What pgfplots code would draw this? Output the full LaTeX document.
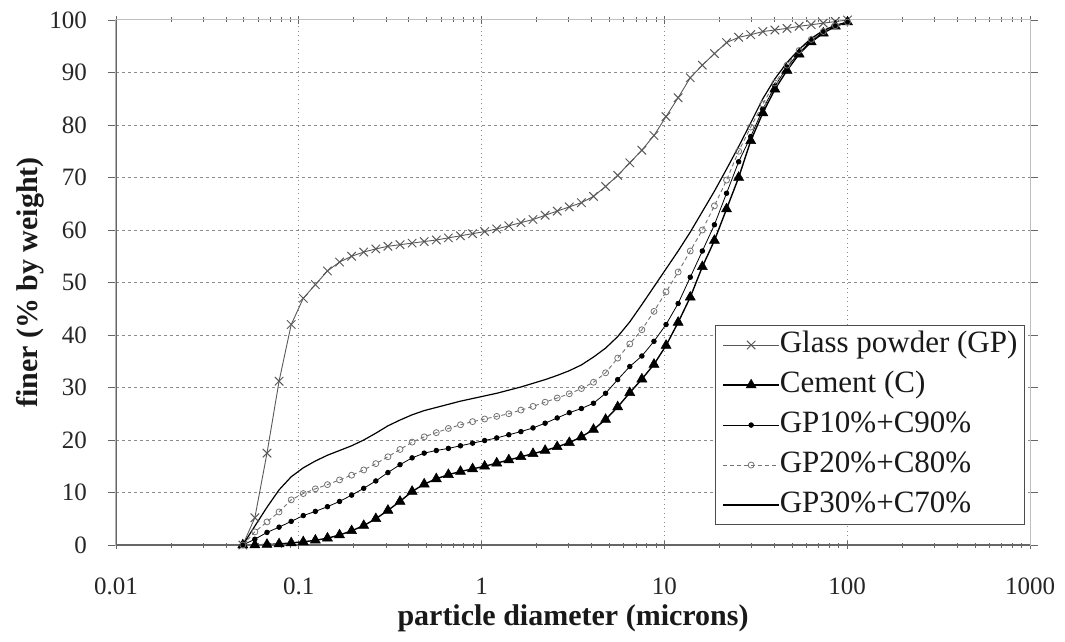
\documentclass[border=0pt]{standalone}
\usepackage{fontspec}
\setmainfont{Liberation Serif}
\usepackage{pgfplots}
\usepackage{pgfplotstable}
\pgfplotsset{compat=1.18}

% cumulative particle size distributions (% finer by weight)
% columns: diameter (microns), glass powder, cement, 10/90, 20/80, 30/70 blends
\pgfplotstableread{
x       GP     C      GPa    GPb    GPc
0.0494  0      0      0      0      0
0.0575  5.2    0      1.1    2.5    3.6
0.0670  17.5   0.1    2.4    4.4    7.2
0.0780  31.2   0.2    3.4    6.3    10.5
0.0909  42.0   0.4    4.5    8.6    13.0
0.1058  47.0   0.6    5.6    9.8    14.7
0.1232  49.6   0.9    6.4    10.7   16.0
0.1435  52.2   1.3    7.3    11.5   17.1
0.1671  53.9   1.9    8.3    12.4   18.0
0.1946  55.0   2.7    9.5    13.3   18.9
0.2266  55.8   3.7    10.8   14.3   20.0
0.2639  56.4   5.0    12.2   15.5   21.3
0.3073  56.9   6.6    13.8   16.8   22.7
0.3579  57.2   8.3    15.3   18.2   23.8
0.4168  57.5   10.2   16.6   19.6   24.8
0.4853  57.8   11.6   17.5   20.6   25.6
0.5652  58.1   12.6   18.0   21.4   26.2
0.6582  58.5   13.4   18.4   22.2   26.8
0.7665  58.9   14.0   18.9   22.9   27.4
0.8926  59.3   14.5   19.4   23.5   27.9
1.039   59.7   15.0   19.9   24.0   28.4
1.210   60.2   15.6   20.4   24.5   28.9
1.409   60.8   16.2   21.0   25.0   29.5
1.641   61.4   16.8   21.6   25.7   30.1
1.911   62.0   17.4   22.3   26.4   30.8
2.226   62.8   18.0   23.2   27.2   31.5
2.592   63.6   18.7   24.2   28.0   32.3
3.019   64.4   19.5   25.2   28.8   33.2
3.516   65.2   20.6   26.0   29.8   34.3
4.094   66.4   22.0   27.0   31.0   35.8
4.769   68.3   23.9   28.9   32.8   37.5
5.553   70.4   26.3   31.5   35.6   39.7
6.467   72.8   29.0   34.0   38.3   42.5
7.531   75.2   31.6   36.0   41.0   45.8
8.770   78.0   34.4   38.8   44.5   49.2
10.21   81.6   38.0   42.0   48.2   52.6
11.89   85.2   42.4   46.0   52.0   56.0
13.85   89.0   47.2   51.0   56.0   59.6
16.13   91.4   53.0   56.0   60.0   63.5
18.78   93.6   58.0   61.0   64.6   67.4
21.88   95.7   64.0   67.0   69.5   71.6
25.48   96.7   70.0   73.0   75.0   75.9
29.67   97.2   77.0   77.8   79.6   80.4
34.55   97.8   82.3   83.0   84.0   85.0
40.23   98.1   86.8   87.4   88.0   88.8
46.85   98.4   90.4   91.0   91.4   91.9
54.57   98.8   93.5   93.8   94.2   94.4
63.55   99.1   95.8   96.0   96.3   96.5
74.00   99.4   97.5   97.7   97.8   98.0
86.17   99.7   98.8   98.8   98.9   99.0
100.4   100    99.6   99.5   99.6   99.6
}\psd

\begin{document}
\begin{tikzpicture}
\begin{axis}[
  at={(0pt,0pt)}, anchor=south west,
  scale only axis, width=914pt, height=525pt,
  xmode=log, xmin=0.01, xmax=1000, ymin=0, ymax=100,
  xtick={0.01,0.1,1,10,100,1000},
  xticklabels={0.01,0.1,1,10,100,1000},
  ytick={0,10,...,100},
  /pgf/number format/assume math mode=true,
  tick label style={font=\fontsize{25}{30}\selectfont, black!85},
  xticklabel style={anchor=center, yshift=-37pt},
  yticklabel style={anchor=east, inner sep=0pt, xshift=-21pt},
  major tick length=8pt, minor tick length=5pt,
  xtick align=center, ytick align=outside,
  tick style={black!60, line width=0.8pt},
  axis line style={black!25, line width=1pt},
  grid=major,
  x grid style={black!45, line width=1pt, dash pattern=on 1pt off 3.5pt},
  y grid style={black!45, line width=1pt, dash pattern=on 3pt off 3pt},
  xlabel={particle diameter (microns)},
  ylabel={finer (\% by weight)},
  label style={font=\fontsize{30}{36}\selectfont\bfseries, black!90},
  xlabel style={at={(axis description cs:0.5,-0.1390)}, anchor=center},
  ylabel style={at={(axis description cs:-0.094,0.5)}, anchor=center},
  legend style={at={(rel axis cs:0.9945,0.038)}, anchor=south east,
    draw=black!70, line width=1pt, fill=white,
    font=\fontsize{31}{34}\selectfont, text=black!90,
    inner xsep=7pt, inner ysep=6pt, row sep=13pt,
    nodes={inner sep=0pt, text height=21pt, text depth=6pt}},
  legend cell align=left,
  legend image code/.code={\draw[mark repeat=2,mark phase=2,#1]
    plot coordinates {(0pt,0pt) (28pt,0pt) (56pt,0pt)};},
]
\addplot[black!65, line width=0.9pt, mark=x, mark size=6pt,
  mark options={black!65, line width=1pt}]
  table[x=x, y=GP] {\psd};
\addlegendentry{Glass powder (GP)}
\addplot[black, line width=1.4pt, mark=triangle*, mark size=5.8pt,
  mark options={black, line width=0.5pt}]
  table[x=x, y=C] {\psd};
\addlegendentry{Cement (C)}
\addplot[black, line width=0.8pt, mark=*, mark size=2.3pt,
  mark options={black}]
  table[x=x, y=GPa] {\psd};
\addlegendentry{GP10\%+C90\%}
\addplot[black!55, line width=0.9pt, dash pattern=on 4pt off 3pt,
  mark=o, mark size=3pt, mark options={solid, black!55, fill=white, line width=0.8pt}]
  table[x=x, y=GPb] {\psd};
\addlegendentry{GP20\%+C80\%}
\addplot[black, line width=1.2pt, no marks]
  table[x=x, y=GPc] {\psd};
\addlegendentry{GP30\%+C70\%}
% darker left and bottom spines
\draw[black!60, line width=1.4pt] (rel axis cs:0,1) -- (rel axis cs:0,0) -- (rel axis cs:1,0);
\end{axis}
\pgfresetboundingbox
\path (-116pt,-96pt) rectangle (949pt,545pt);
\end{tikzpicture}
\end{document}
